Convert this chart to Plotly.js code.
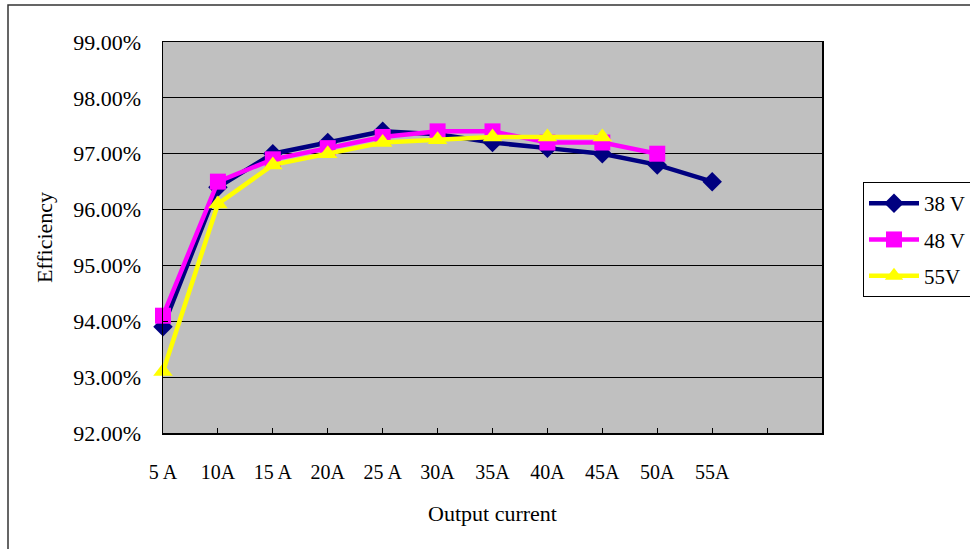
<!DOCTYPE html>
<html>
<head>
<meta charset="utf-8">
<script src="https://cdn.plot.ly/plotly-3.0.1.min.js"></script>
<style>html,body{margin:0;padding:0;background:#fff;}#chart{width:970px;height:549px;}</style>
</head>
<body>
<div id="chart"></div>
<script>
var categories = ["5 A","10A","15 A","20A","25 A","30A","35A","40A","45A","50A","55A"];
var v38 = [93.9, 96.4, 97.0, 97.2, 97.4, 97.35, 97.2, 97.1, 97.0, 96.8, 96.5];
var v48 = [94.1, 96.5, 96.9, 97.1, 97.3, 97.4, 97.4, 97.2, 97.2, 97.0];
var v55 = [93.1, 96.1, 96.8, 97.0, 97.2, 97.25, 97.3, 97.3, 97.3];
var seriesNames = ["38 V", "48 V", "55V"];
var yTicks = [92, 93, 94, 95, 96, 97, 98, 99];

var font = "Liberation Serif, Times New Roman, serif";
function idx(arr){ return arr.map(function(_, i){ return i; }); }
var nSlots = categories.length + 1;
var tickvals = [], ticktext = [];
for (var i = 0; i <= nSlots; i++) { tickvals.push(i); ticktext.push(i < categories.length ? categories[i] : ""); }
var yTickText = yTicks.map(function(v){ return v.toFixed(2) + "%"; });

var traces = [
  {x: idx(v38), y: v38, name: seriesNames[0], legendgroup: "a", mode: "lines+markers", cliponaxis: false,
   line: {color: "#000080", width: 4.5}, marker: {symbol: "diamond", size: 15, color: "#000080"}},
  {x: idx(v48), y: v48, name: seriesNames[1], legendgroup: "b", mode: "lines+markers", cliponaxis: false,
   line: {color: "#FF00FF", width: 4.5}, marker: {symbol: "square", size: 16, color: "#FF00FF"}},
  {x: idx(v55), y: v55, name: seriesNames[2], legendgroup: "c", mode: "lines+markers", cliponaxis: false,
   line: {color: "#FFFF00", width: 4.5}, marker: {symbol: "triangle-up", size: 17, color: "#FFFF00"}}
];

var L = 163, R = 822, T = 42, B = 433, W = 970, H = 549;
function px(x){ return (x - L) / (R - L); }
function py(y){ return (B - y) / (B - T); }

var layout = {
  width: W, height: H,
  margin: {l: L, r: W - R, t: T, b: H - B, autoexpand: false},
  paper_bgcolor: "#ffffff",
  plot_bgcolor: "#C0C0C0",
  font: {family: font, size: 20, color: "#000"},
  showlegend: true,
  legend: {x: px(863), y: py(182), xanchor: "left", yanchor: "top",
    bgcolor: "#ffffff", bordercolor: "#000", borderwidth: 1, itemwidth: 50,
    font: {family: font, size: 21, color: "#000"}, traceorder: "grouped", tracegroupgap: 6},
  xaxis: {
    range: [0, nSlots], tickmode: "array", tickvals: tickvals, ticktext: ticktext,
    showgrid: false, zeroline: false, showline: true, linecolor: "#000", linewidth: 1.5, mirror: true,
    ticks: "inside", ticklen: 5, tickcolor: "#000", ticklabelstandoff: 20,
    tickfont: {family: font, size: 20, color: "#000"},
    title: {text: "Output current", font: {family: font, size: 22, color: "#000"}, standoff: 24}
  },
  yaxis: {
    range: [92, 99], tickmode: "array", tickvals: yTicks, ticktext: yTickText,
    showgrid: true, gridcolor: "#000", gridwidth: 1, zeroline: false,
    showline: true, linecolor: "#000", linewidth: 1.5, mirror: true,
    ticks: "inside", ticklen: 5, tickcolor: "#000", ticklabelstandoff: 16,
    tickfont: {family: font, size: 22, color: "#000"},
    title: {text: "Efficiency", font: {family: font, size: 22, color: "#000"}, standoff: 14}
  },
  shapes: [
    {type: "rect", xref: "paper", yref: "paper", x0: px(8), x1: px(1000), y0: py(600), y1: py(5),
     line: {color: "#333", width: 1.5}, fillcolor: "rgba(0,0,0,0)", layer: "below"}
  ]
};

Plotly.newPlot("chart", traces, layout, {displayModeBar: false, staticPlot: true});
</script>
</body>
</html>
